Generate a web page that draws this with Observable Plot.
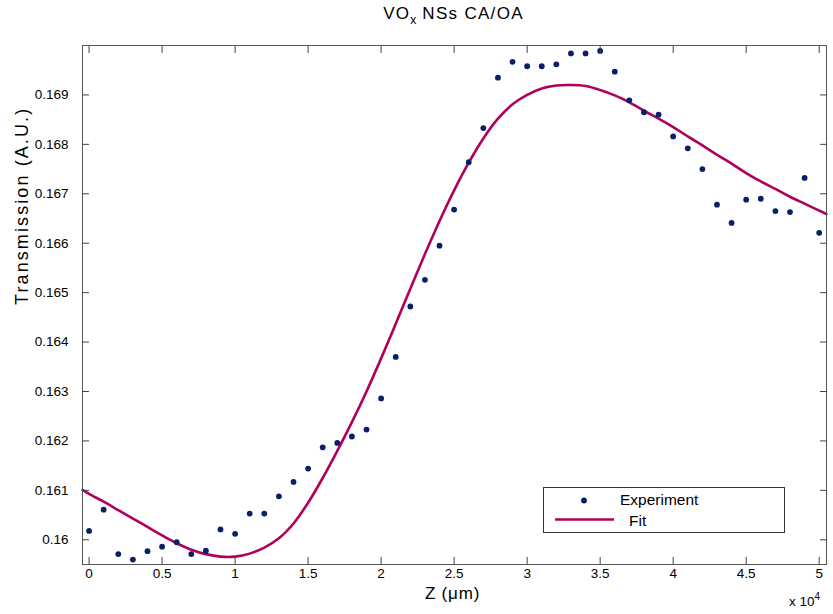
<!DOCTYPE html>
<html>
<head>
<meta charset="utf-8">
<script src="https://cdn.jsdelivr.net/npm/d3@7"></script>
<script src="https://cdn.jsdelivr.net/npm/@observablehq/plot@0.6"></script>
<style>
  html, body { margin: 0; padding: 0; background: #fff; }
  #wrap { position: relative; width: 833px; height: 614px; font-family: "Liberation Sans", Arial, sans-serif; }
  #title { height: 30px; text-align: center; padding-left: 74px; box-sizing: border-box; font-size: 17px; letter-spacing: 1.3px; line-height: 28px; color: #000; }
  #title sub { font-size: 12px; letter-spacing: 0; vertical-align: -5px; line-height: 0; }
  #legend { position: absolute; left: 543px; top: 487px; width: 242px; height: 46px; box-sizing: border-box; border: 1px solid #333; background: #fff; font-size: 15.5px; }
  #legend svg { position: absolute; left: 0; top: 0; }
  #legend .lab { position: absolute; line-height: 1; color: #000; }
  #x10 { position: absolute; left: 789px; top: 594px; font-size: 13.5px; }
  #x10 sup { font-size: 10px; vertical-align: 6px; line-height: 0; }
</style>
</head>
<body>
<div id="wrap">
  <div id="title">VO<sub>x</sub> NSs CA/OA</div>
  <div id="chart"></div>
  <div id="legend">
    <svg width="240" height="44">
      <circle cx="40" cy="12.5" r="2.9" fill="#0a1f66"></circle>
      <line x1="11" x2="70" y1="31.5" y2="31.5" stroke="#b0005a" stroke-width="2.6"></line>
    </svg>
    <span class="lab" style="left:76px; top:4px;">Experiment</span>
    <span class="lab" style="left:85px; top:25px;">Fit</span>
  </div>
  <div id="x10">x 10<sup>4</sup></div>
</div>
<script>
// Experimental data: Z position (µm) and transmission (A.U.)
const zExp = [0, 1000, 2000, 3000, 4000, 5000, 6000, 7000, 8000, 9000,
  10000, 11000, 12000, 13000, 14000, 15000, 16000, 17000, 18000, 19000,
  20000, 21000, 22000, 23000, 24000, 25000, 26000, 27000, 28000, 29000,
  30000, 31000, 32000, 33000, 34000, 35000, 36000, 37000, 38000, 39000,
  40000, 41000, 42000, 43000, 44000, 45000, 46000, 47000, 48000, 49000, 50000];
const tExp = [0.16018, 0.16061, 0.15971, 0.15960, 0.15977, 0.15986, 0.15995, 0.15971, 0.15978, 0.16021,
  0.16012, 0.16053, 0.16053, 0.16088, 0.16117, 0.16144, 0.16187, 0.16196, 0.16209, 0.16223,
  0.16286, 0.16370, 0.16472, 0.16526, 0.16595, 0.16668, 0.16764, 0.16833, 0.16935, 0.16967,
  0.16958, 0.16958, 0.16962, 0.16984, 0.16984, 0.16989, 0.16947, 0.16889, 0.16865, 0.16860,
  0.16816, 0.16792, 0.16750, 0.16678, 0.16641, 0.16688, 0.16690, 0.16665, 0.16663, 0.16732, 0.16621];

// Fit curve samples
const zFit = [-450, 0, 1000, 2000, 3000, 4000, 5000, 6000, 7000, 8000, 9000,
  10000, 11000, 12000, 13000, 14000, 15000, 16000, 17000, 18000, 19000,
  20000, 21000, 22000, 23000, 24000, 25000, 26000, 27000, 28000, 29000,
  30000, 31000, 32000, 33000, 34000, 35000, 36000, 37000, 38000, 39000,
  40000, 41000, 42000, 43000, 44000, 45000, 46000, 47000, 48000, 49000, 50000, 50500];
const tFit = [0.16101, 0.16093, 0.16077, 0.16060, 0.16043, 0.16026, 0.16009, 0.15993, 0.15980, 0.15971, 0.15966,
  0.15966, 0.15972, 0.15984, 0.16003, 0.16033, 0.16075, 0.16125, 0.16180, 0.16238, 0.16300,
  0.16367, 0.16437, 0.16508, 0.16578, 0.16645, 0.16707, 0.16763, 0.16812, 0.16852, 0.16881,
  0.16900, 0.16913, 0.16919, 0.16920, 0.16918, 0.16910, 0.16899, 0.16885, 0.16868, 0.16852,
  0.16835, 0.16816, 0.16798, 0.16779, 0.16761, 0.16742, 0.16725, 0.16710, 0.16694, 0.16680, 0.16666, 0.16659];

// Axis ticks
const xTicks = [0, 5000, 10000, 15000, 20000, 25000, 30000, 35000, 40000, 45000, 50000];
const yTicks = [0.160, 0.161, 0.162, 0.163, 0.164, 0.165, 0.166, 0.167, 0.168, 0.169];
const xLabel = "Z (\u03bcm)";
const yLabel = "Transmission (A.U.)";

const expData = zExp.map((z, i) => ({z, t: tExp[i]}));
const fitData = zFit.map((z, i) => ({z, t: tFit[i]}));

const axisColor = "#444";
const chart = Plot.plot({
  width: 833,
  height: 584,
  marginLeft: 82,
  marginRight: 7,
  marginTop: 15,
  marginBottom: 50,
  style: {fontFamily: "'Liberation Sans', Arial, sans-serif", fontSize: "13.5px", color: "#000", background: "#fff", overflow: "visible"},
  x: {domain: [-450, 50500]},
  y: {domain: [0.1595, 0.170]},
  marks: [
    Plot.line(fitData, {x: "z", y: "t", stroke: "#b0005a", strokeWidth: 2.6, curve: "catmull-rom"}),
    Plot.dot(expData, {x: "z", y: "t", r: 2.9, fill: "#0a1f66", stroke: "none"}),
    Plot.frame({stroke: "#555"}),
    Plot.axisX({anchor: "bottom", ticks: xTicks, tickSize: -7, tickPadding: 11, tickFormat: d => String(d / 1e4), label: null, stroke: axisColor}),
    Plot.axisX({anchor: "top", ticks: xTicks, tickSize: -7, tickFormat: () => "", label: null, stroke: axisColor}),
    Plot.axisY({anchor: "left", ticks: yTicks, tickSize: -7, tickPadding: 21, tickFormat: d => String(+d.toFixed(3)), label: null, stroke: axisColor}),
    Plot.axisY({anchor: "right", ticks: yTicks, tickSize: -7, tickFormat: () => "", label: null, stroke: axisColor}),
    Plot.text([xLabel], {text: d => d, frameAnchor: "bottom", lineAnchor: "bottom", dy: 34, dx: -2, fontSize: 17, fill: "#000"}),
    Plot.text([yLabel], {text: d => d, frameAnchor: "left", rotate: -90, dx: -60, fontSize: 18, fill: "#000"})
  ]
});
document.getElementById("chart").appendChild(chart);
// letter spacing tweaks to mimic the original's wide label lettering
d3.select(chart).selectAll("text").each(function() {
  const t = this.textContent;
  if (t === yLabel) this.setAttribute("letter-spacing", "2.1px");
  if (t === xLabel) this.setAttribute("letter-spacing", "0.8px");
});
</script>
</body>
</html>
